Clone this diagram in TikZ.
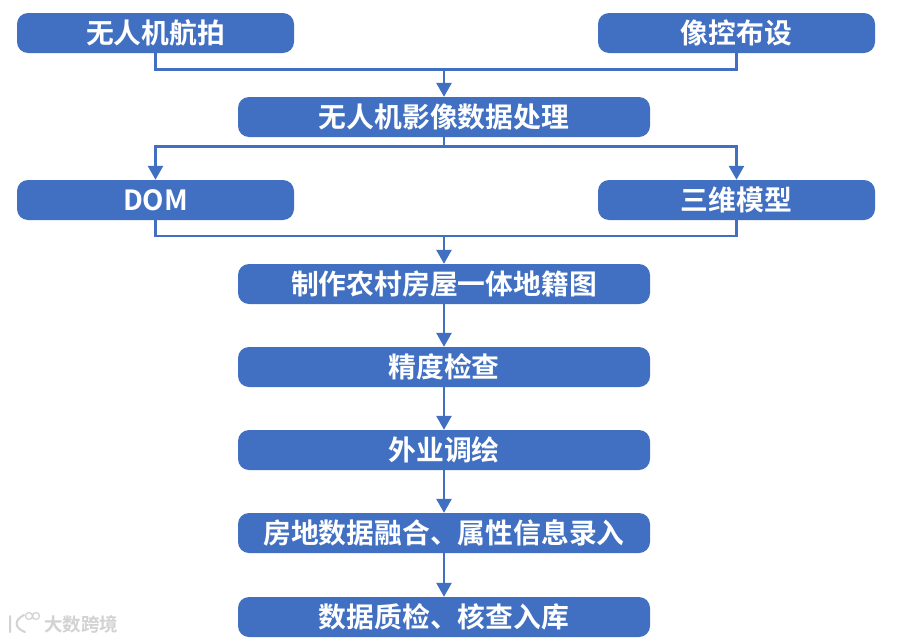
\documentclass[tikz,border=0pt]{standalone}
\usepackage{fontspec}
\newfontfamily\cjk{Noto Sans CJK SC Bold}
\usetikzlibrary{arrows.meta}
\definecolor{boxblue}{HTML}{4170C2}
\definecolor{wm}{HTML}{D2D2D2}
\tikzset{
  x=1pt,y=-1pt,
  flowbox/.style={fill=boxblue,rounded corners=11pt,minimum height=40pt,inner sep=0pt,text=white,font=\cjk\fontsize{27.8}{30}\selectfont},
  sidebox/.style={flowbox,minimum width=277pt},
  midbox/.style={flowbox,minimum width=412pt},
  link/.style={draw=boxblue,line width=2.6pt},
  arrowlink/.style={link,-{Triangle[length=14pt,width=15pt]}}
}
\begin{document}
\begin{tikzpicture}
\useasboundingbox (0,0) rectangle (900,640);
\fill[white] (0,0) rectangle (900,640);
\node[sidebox] (a) at (155.5,33) {无人机航拍};
\node[sidebox] (b) at (736.5,33) {像控布设};
\node[midbox] (c) at (444,117) {无人机影像数据处理};
\node[sidebox] (d) at (155.5,200) {DOM};
\node[sidebox] (e) at (736.5,200) {三维模型};
\node[midbox] (f) at (444,284) {制作农村房屋一体地籍图};
\node[midbox] (g) at (444,367) {精度检查};
\node[midbox] (h) at (444,450) {外业调绘};
\node[midbox] (i) at (444,533) {房地数据融合、属性信息录入};
\node[midbox] (j) at (444,617) {数据质检、核查入库};
\coordinate (m1) at (444,69.5);
\coordinate (m2) at (444,146.5);
\coordinate (m3) at (444,236);
\draw[link] (a.south) |- (m1) -| (b.south);
\draw[arrowlink] (m1) -- (c.north);
\draw[link] (c.south) -- (m2);
\draw[arrowlink] (m2) -| (d.north);
\draw[arrowlink] (m2) -| (e.north);
\draw[link] (d.south) |- (m3) -| (e.south);
\draw[arrowlink] (m3) -- (f.north);
\draw[arrowlink] (f) -- (g);
\draw[arrowlink] (g) -- (h);
\draw[arrowlink] (h) -- (i);
\draw[arrowlink] (i) -- (j);
\node[text=wm,font=\cjk\fontsize{18.5}{20}\selectfont,inner sep=0pt] (w) at (81,624) {大数跨境};
\draw[wm,line width=2pt,line cap=round] (10,616) -- (10,632) (24,615) .. controls (14,620) and (14,628) .. (25,632);
\draw[wm,line width=1.2pt] (29,616) circle (3.5) (36,616) circle (3.5);
\end{tikzpicture}
\end{document}
